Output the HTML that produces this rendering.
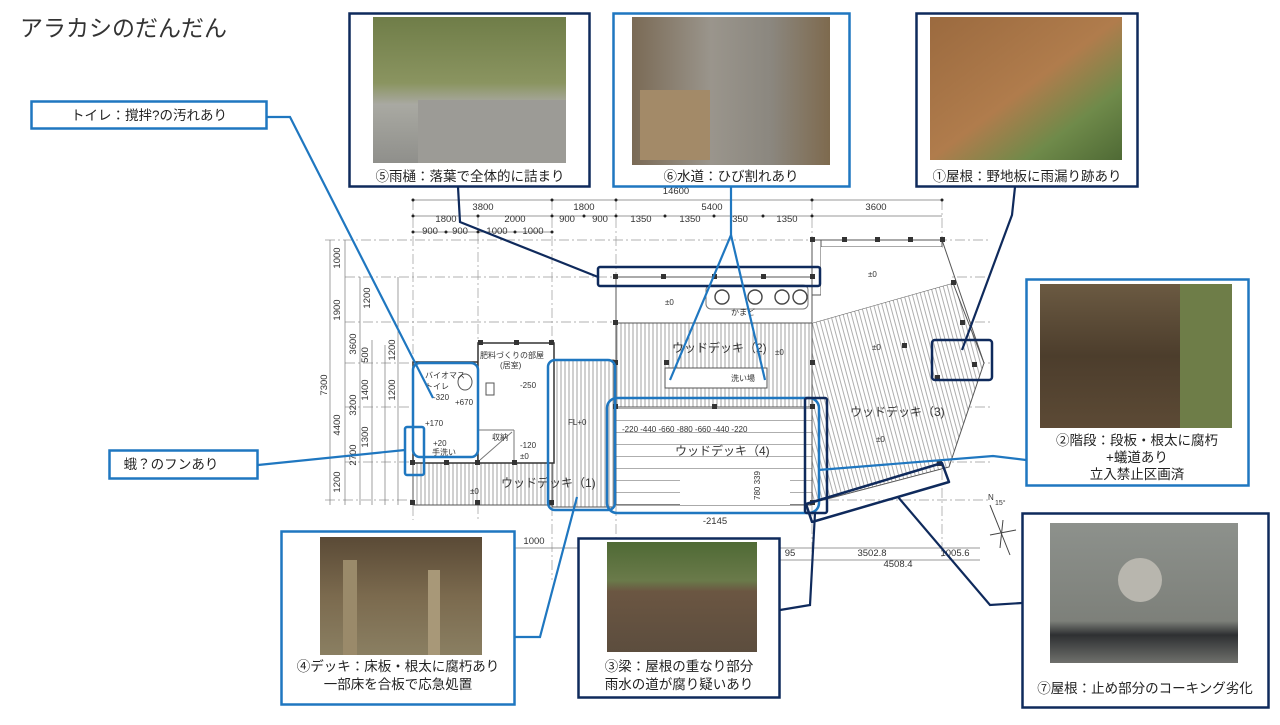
<!DOCTYPE html>
<html><head><meta charset="utf-8"><style>
html,body{margin:0;padding:0;background:#fff;}
body{width:1280px;height:720px;overflow:hidden;position:relative;font-family:"Liberation Sans","Noto Sans CJK JP",sans-serif;}
svg text{font-family:"Liberation Sans","Noto Sans CJK JP",sans-serif;}
</style></head><body>
<svg width="1280" height="720" viewBox="0 0 1280 720" xmlns="http://www.w3.org/2000/svg">
<defs>
<pattern id="vh" width="4" height="4" patternUnits="userSpaceOnUse"><rect width="4" height="4" fill="#fff"/><line x1="1" y1="0" x2="1" y2="4" stroke="#8a8a8a" stroke-width="0.8"/></pattern>
<pattern id="dh" width="4" height="4" patternUnits="userSpaceOnUse" patternTransform="rotate(-15)"><rect width="4" height="4" fill="#fff"/><line x1="1" y1="0" x2="1" y2="4" stroke="#9a9a9a" stroke-width="0.8"/></pattern>
<pattern id="hh" width="10" height="12" patternUnits="userSpaceOnUse"><rect width="10" height="12" fill="#fff"/><line x1="0" y1="0.5" x2="10" y2="0.5" stroke="#999" stroke-width="0.8"/></pattern>
<linearGradient id="p5" x1="0" y1="0" x2="0" y2="1"><stop offset="0" stop-color="#6f7d48"/><stop offset="0.45" stop-color="#8a9460"/><stop offset="0.6" stop-color="#a9a9a2"/><stop offset="1" stop-color="#8f8f8b"/></linearGradient>
<linearGradient id="p6" x1="0" y1="0" x2="1" y2="0"><stop offset="0" stop-color="#7a6a55"/><stop offset="0.4" stop-color="#9a958c"/><stop offset="0.7" stop-color="#8b877f"/><stop offset="1" stop-color="#7e6a4e"/></linearGradient>
<linearGradient id="p1" x1="0" y1="0" x2="1" y2="1"><stop offset="0" stop-color="#9b6a3f"/><stop offset="0.5" stop-color="#b07c4c"/><stop offset="0.75" stop-color="#6f8a4a"/><stop offset="1" stop-color="#4f6a35"/></linearGradient>
<linearGradient id="p2" x1="0" y1="0" x2="0" y2="1"><stop offset="0" stop-color="#6b5a42"/><stop offset="0.5" stop-color="#4c3d2c"/><stop offset="1" stop-color="#5c4a35"/></linearGradient>
<linearGradient id="p7" x1="0" y1="0" x2="0" y2="1"><stop offset="0" stop-color="#8d918c"/><stop offset="0.7" stop-color="#7d807a"/><stop offset="0.8" stop-color="#2e3032"/><stop offset="1" stop-color="#6f706c"/></linearGradient>
<linearGradient id="p4" x1="0" y1="0" x2="0" y2="1"><stop offset="0" stop-color="#5a4a36"/><stop offset="0.5" stop-color="#7b6a4e"/><stop offset="1" stop-color="#8a7f62"/></linearGradient>
<linearGradient id="p3" x1="0" y1="0" x2="0" y2="1"><stop offset="0" stop-color="#4f6a35"/><stop offset="0.35" stop-color="#6a7a4a"/><stop offset="0.45" stop-color="#6b5642"/><stop offset="1" stop-color="#5c4d3e"/></linearGradient>
</defs>

<text x="20" y="36" font-size="23" fill="#333">アラカシのだんだん</text>

<!-- ===== floor plan ===== -->
<g stroke="#777" stroke-width="0.7" fill="none">
  <line x1="413" y1="200" x2="942" y2="200"/>
  <line x1="413" y1="216" x2="942" y2="216"/>
  <line x1="413" y1="232" x2="552" y2="232"/>
  <g stroke-dasharray="10,3,2,3" stroke="#999">
    <line x1="325" y1="240" x2="990" y2="240"/>
    <line x1="345" y1="277" x2="990" y2="277"/>
    <line x1="345" y1="322" x2="990" y2="322"/>
    <line x1="345" y1="363" x2="990" y2="363"/>
    <line x1="345" y1="407" x2="990" y2="407"/>
    <line x1="345" y1="462" x2="990" y2="462"/>
    <line x1="325" y1="500" x2="990" y2="500"/>
    <line x1="413" y1="200" x2="413" y2="520"/>
    <line x1="478" y1="216" x2="478" y2="520"/>
    <line x1="552" y1="200" x2="552" y2="580"/>
    <line x1="616" y1="200" x2="616" y2="580"/>
    <line x1="812" y1="200" x2="812" y2="580"/>
    <line x1="942" y1="200" x2="942" y2="560"/>
  </g>
  <line x1="330" y1="240" x2="330" y2="505"/>
  <line x1="345" y1="240" x2="345" y2="505"/>
  <line x1="360" y1="277" x2="360" y2="505"/>
  <line x1="372" y1="340" x2="372" y2="505"/>
  <line x1="385" y1="345" x2="385" y2="505"/>
  <line x1="398" y1="277" x2="398" y2="505"/>
  <line x1="515" y1="548" x2="980" y2="548"/>
  <line x1="780" y1="560" x2="980" y2="560"/>
</g>
<g fill="#222">
  <circle cx="413" cy="200" r="1.5"/><circle cx="552" cy="200" r="1.5"/><circle cx="616" cy="200" r="1.5"/><circle cx="812" cy="200" r="1.5"/><circle cx="942" cy="200" r="1.5"/>
  <circle cx="413" cy="216" r="1.5"/><circle cx="478" cy="216" r="1.5"/><circle cx="552" cy="216" r="1.5"/><circle cx="584" cy="216" r="1.5"/><circle cx="616" cy="216" r="1.5"/><circle cx="665" cy="216" r="1.5"/><circle cx="714" cy="216" r="1.5"/><circle cx="763" cy="216" r="1.5"/><circle cx="812" cy="216" r="1.5"/>
  <circle cx="413" cy="232" r="1.5"/><circle cx="446" cy="232" r="1.5"/><circle cx="478" cy="232" r="1.5"/><circle cx="515" cy="232" r="1.5"/><circle cx="552" cy="232" r="1.5"/>
</g>

<rect x="812" y="240" width="130" height="7" fill="#fff" stroke="#555" stroke-width="1"/>
<rect x="812" y="240" width="9" height="55" fill="#fff" stroke="#555" stroke-width="1"/>
<rect x="616" y="277" width="196" height="46" fill="#fff" stroke="#555" stroke-width="1"/>
<rect x="706" y="285" width="102" height="24" rx="5" fill="#fff" stroke="#777"/>
<g fill="none" stroke="#444" stroke-width="1.4"><circle cx="722" cy="297" r="7"/><circle cx="755" cy="297" r="7"/><circle cx="782" cy="297" r="7"/><circle cx="800" cy="297" r="7"/></g>
<polygon points="812,323 953,283 984,363 949,467 812,503" fill="url(#dh)" stroke="#555" stroke-width="1"/>
<polygon points="821,247 942,247 953,283 812,323 821,295" fill="#fff" stroke="none"/>
<line x1="942" y1="240" x2="984" y2="363" stroke="#555"/>
<rect x="616" y="323" width="196" height="84" fill="url(#vh)" stroke="#555"/>
<rect x="665" y="368" width="102" height="20" fill="#fff" stroke="#555"/>
<rect x="616" y="407" width="196" height="98" fill="url(#hh)" stroke="#555"/>
<rect x="680" y="470" width="110" height="35" fill="#fff" stroke="none"/>
<rect x="552" y="360" width="62" height="147" fill="url(#vh)" stroke="#555"/>
<rect x="413" y="463" width="139" height="42" fill="url(#vh)" stroke="#555"/>
<rect x="413" y="362" width="65" height="101" fill="#fff" stroke="#333" stroke-width="1.5"/>
<rect x="478" y="343" width="76" height="120" fill="#fff" stroke="#333" stroke-width="1.5"/>
<line x1="478" y1="430" x2="514" y2="430" stroke="#777"/>
<line x1="514" y1="430" x2="514" y2="463" stroke="#777"/>
<line x1="480" y1="460" x2="512" y2="432" stroke="#777"/>
<ellipse cx="465" cy="382" rx="7" ry="8" fill="none" stroke="#555"/>
<rect x="486" y="383" width="8" height="12" fill="none" stroke="#555"/>
<g fill="#333">
  <rect x="613" y="274" width="5" height="5"/><rect x="661" y="274" width="5" height="5"/><rect x="712" y="274" width="5" height="5"/><rect x="761" y="274" width="5" height="5"/><rect x="810" y="274" width="5" height="5"/>
  <rect x="810" y="237" width="5" height="5"/><rect x="842" y="237" width="5" height="5"/><rect x="875" y="237" width="5" height="5"/><rect x="908" y="237" width="5" height="5"/><rect x="940" y="237" width="5" height="5"/>
  <rect x="613" y="320" width="5" height="5"/><rect x="613" y="360" width="5" height="5"/><rect x="664" y="360" width="5" height="5"/><rect x="810" y="360" width="5" height="5"/>
  <rect x="613" y="404" width="5" height="5"/><rect x="712" y="404" width="5" height="5"/><rect x="810" y="404" width="5" height="5"/>
  <rect x="810" y="500" width="5" height="5"/><rect x="475" y="500" width="5" height="5"/><rect x="410" y="500" width="5" height="5"/><rect x="549" y="500" width="5" height="5"/>
  <rect x="410" y="460" width="5" height="5"/><rect x="444" y="460" width="5" height="5"/><rect x="475" y="460" width="5" height="5"/><rect x="512" y="460" width="5" height="5"/>
  <rect x="951" y="280" width="5" height="5"/><rect x="960" y="320" width="5" height="5"/><rect x="972" y="362" width="5" height="5"/><rect x="935" y="375" width="5" height="5"/><rect x="902" y="343" width="5" height="5"/><rect x="937" y="461" width="5" height="5"/>
  <rect x="478" y="340" width="5" height="5"/><rect x="514" y="340" width="5" height="5"/><rect x="549" y="340" width="5" height="5"/>
</g>

<g font-size="9.5" fill="#333">
  <text x="676" y="194" text-anchor="middle">14600</text>
  <text x="483" y="210" text-anchor="middle">3800</text>
  <text x="584" y="210" text-anchor="middle">1800</text>
  <text x="712" y="210" text-anchor="middle">5400</text>
  <text x="876" y="210" text-anchor="middle">3600</text>
  <text x="446" y="222" text-anchor="middle">1800</text><text x="515" y="222" text-anchor="middle">2000</text><text x="567" y="222" text-anchor="middle">900</text><text x="600" y="222" text-anchor="middle">900</text><text x="641" y="222" text-anchor="middle">1350</text><text x="690" y="222" text-anchor="middle">1350</text><text x="740" y="222" text-anchor="middle">350</text><text x="787" y="222" text-anchor="middle">1350</text>
  <text x="430" y="234" text-anchor="middle">900</text><text x="460" y="234" text-anchor="middle">900</text><text x="497" y="234" text-anchor="middle">1000</text><text x="533" y="234" text-anchor="middle">1000</text>
  <text transform="translate(327,385) rotate(-90)" text-anchor="middle">7300</text>
  <text transform="translate(340,258) rotate(-90)" text-anchor="middle">1000</text>
  <text transform="translate(340,310) rotate(-90)" text-anchor="middle">1900</text>
  <text transform="translate(340,425) rotate(-90)" text-anchor="middle">4400</text>
  <text transform="translate(340,482) rotate(-90)" text-anchor="middle">1200</text>
  <text transform="translate(370,298) rotate(-90)" text-anchor="middle">1200</text>
  <text transform="translate(356,344) rotate(-90)" text-anchor="middle">3600</text>
  <text transform="translate(356,405) rotate(-90)" text-anchor="middle">3200</text>
  <text transform="translate(368,355) rotate(-90)" text-anchor="middle">500</text>
  <text transform="translate(368,390) rotate(-90)" text-anchor="middle">1400</text>
  <text transform="translate(368,437) rotate(-90)" text-anchor="middle">1300</text>
  <text transform="translate(356,455) rotate(-90)" text-anchor="middle">2700</text>
  <text transform="translate(395,350) rotate(-90)" text-anchor="middle">1200</text>
  <text transform="translate(395,390) rotate(-90)" text-anchor="middle">1200</text>
  <text x="534" y="544" text-anchor="middle">1000</text>
  <text x="790" y="556" text-anchor="middle">95</text>
  <text x="872" y="556" text-anchor="middle">3502.8</text>
  <text x="955" y="556" text-anchor="middle">1005.6</text>
  <text x="898" y="567" text-anchor="middle">4508.4</text>
  <text x="715" y="524" text-anchor="middle">-2145</text>
</g>
<g font-size="12" fill="#333">
  <text x="672" y="352">ウッドデッキ（2)</text>
  <text x="850" y="416">ウッドデッキ（3)</text>
  <text x="675" y="455">ウッドデッキ（4)</text>
  <text x="501" y="487">ウッドデッキ（1)</text>
</g>
<g font-size="8" fill="#333">
  <text x="425" y="378">バイオマス</text><text x="425" y="389">トイレ</text>
  <text x="480" y="358">肥料づくりの部屋</text><text x="500" y="368">(居室)</text>
  <text x="492" y="440">収納</text><text x="432" y="455">手洗い</text>
  <text x="731" y="381">洗い場</text><text x="731" y="315">かまど</text>
  <text x="433" y="400">-320</text><text x="455" y="405">+670</text><text x="425" y="426">+170</text><text x="433" y="446">+20</text>
  <text x="520" y="388">-250</text><text x="520" y="448">-120</text><text x="520" y="459">±0</text>
  <text x="665" y="305">±0</text><text x="775" y="355">±0</text><text x="868" y="277">±0</text><text x="872" y="350">±0</text><text x="876" y="442">±0</text><text x="470" y="494">±0</text><text x="568" y="425">FL+0</text>
  <text x="622" y="432">-220  -440  -660    -880    -660  -440  -220</text>
  <text transform="translate(760,500) rotate(-90)">780  339</text>
</g>
<g stroke="#444" fill="none"><line x1="990" y1="505" x2="1010" y2="555"/><line x1="990" y1="535" x2="1016" y2="530"/><line x1="1003" y1="520" x2="1000" y2="548"/></g>
<text x="988" y="500" font-size="8" fill="#333">N</text><text x="995" y="505" font-size="7" fill="#333">15°</text>

<g fill="none" stroke-width="2.5">
  <rect x="598" y="267" width="222" height="19" rx="2" stroke="#0f2a5c"/>
  <rect x="413" y="363" width="65" height="94" rx="7" stroke="#1f77c0"/>
  <rect x="548" y="360" width="67" height="150" rx="7" stroke="#1f77c0"/>
  <rect x="607" y="398" width="212" height="115" rx="10" stroke="#1f77c0"/>
  <rect x="405" y="427" width="19" height="48" rx="2" stroke="#1f77c0"/>
  <rect x="805" y="398" width="22" height="115" rx="2" stroke="#0f2a5c"/>
  <rect x="932" y="340" width="60" height="40" rx="3" stroke="#0f2a5c"/>
  <polygon points="806,504 942,463 949,482 812,522" stroke="#0f2a5c" stroke-linejoin="round"/>
</g>

<g fill="none" stroke-width="2.2">
  <polyline points="267,117 290,117 433,398" stroke="#1f77c0"/>
  <polyline points="258,465 405,450" stroke="#1f77c0"/>
  <polyline points="458,187 460,222 598,277" stroke="#0f2a5c"/>
  <polyline points="731,187 731,235 670,380" stroke="#1f77c0"/>
  <polyline points="731,235 765,380" stroke="#1f77c0"/>
  <polyline points="1015,187 1012,215 962,350" stroke="#0f2a5c"/>
  <polyline points="1026,460 993,456 818,470" stroke="#1f77c0"/>
  <polyline points="1022,603 990,605 898,497" stroke="#0f2a5c"/>
  <polyline points="515,637 540,637 577,497" stroke="#1f77c0"/>
  <polyline points="780,610 810,605 815,513" stroke="#0f2a5c"/>
</g>

<rect x="31.5" y="101.5" width="235" height="27" fill="#fff" stroke="#1f77c0" stroke-width="2.5"/>
<text x="149" y="120" font-size="13.5" fill="#222" text-anchor="middle">トイレ：撹拌?の汚れあり</text>
<rect x="109.5" y="450.5" width="148" height="28" fill="#fff" stroke="#1f77c0" stroke-width="2.5"/>
<text x="171" y="469" font-size="13.5" fill="#222" text-anchor="middle">蛾？のフンあり</text>

<rect x="349.5" y="13.5" width="240" height="173" fill="#fff" stroke="#0f2a5c" stroke-width="2.5"/>
<rect x="373" y="17" width="193" height="146" fill="url(#p5)"/>
<rect x="418" y="100" width="148" height="63" fill="#9c9b96"/>
<text x="470" y="181" font-size="13.5" fill="#222" text-anchor="middle">⑤雨樋：落葉で全体的に詰まり</text>
<rect x="613.5" y="13.5" width="236" height="173" fill="#fff" stroke="#1f77c0" stroke-width="2.5"/>
<rect x="632" y="17" width="198" height="148" fill="url(#p6)"/>
<rect x="640" y="90" width="70" height="70" fill="#a38a68"/>
<text x="731" y="181" font-size="13.5" fill="#222" text-anchor="middle">⑥水道：ひび割れあり</text>
<rect x="916.5" y="13.5" width="221" height="173" fill="#fff" stroke="#0f2a5c" stroke-width="2.5"/>
<rect x="930" y="17" width="192" height="143" fill="url(#p1)"/>
<text x="1027" y="181" font-size="13.5" fill="#222" text-anchor="middle">①屋根：野地板に雨漏り跡あり</text>
<rect x="1026.5" y="279.5" width="222" height="206" fill="#fff" stroke="#1f77c0" stroke-width="2.5"/>
<rect x="1040" y="284" width="192" height="144" fill="url(#p2)"/>
<rect x="1180" y="284" width="52" height="144" fill="#6e7d48"/>
<g font-size="13.5" fill="#222" text-anchor="middle">
<text x="1137" y="445">②階段：段板・根太に腐朽</text>
<text x="1137" y="462">+蟻道あり</text>
<text x="1137" y="479">立入禁止区画済</text>
</g>
<rect x="1022.5" y="513.5" width="246" height="194" fill="#fff" stroke="#0f2a5c" stroke-width="2.5"/>
<rect x="1050" y="523" width="188" height="140" fill="url(#p7)"/>
<circle cx="1140" cy="580" r="22" fill="#b8b6ae"/>
<text x="1145" y="693" font-size="13.5" fill="#222" text-anchor="middle">⑦屋根：止め部分のコーキング劣化</text>
<rect x="281.5" y="531.5" width="233" height="173" fill="#fff" stroke="#1f77c0" stroke-width="2.5"/>
<rect x="320" y="537" width="162" height="118" fill="url(#p4)"/>
<rect x="343" y="560" width="14" height="95" fill="#9a8a6a"/><rect x="428" y="570" width="12" height="85" fill="#a89878"/>
<g font-size="13.5" fill="#222" text-anchor="middle">
<text x="398" y="671">④デッキ：床板・根太に腐朽あり</text>
<text x="398" y="689">一部床を合板で応急処置</text>
</g>
<rect x="578.5" y="538.5" width="201" height="159" fill="#fff" stroke="#0f2a5c" stroke-width="2.5"/>
<rect x="607" y="542" width="150" height="110" fill="url(#p3)"/>
<g font-size="13.5" fill="#222" text-anchor="middle">
<text x="679" y="671">③梁：屋根の重なり部分</text>
<text x="679" y="689">雨水の道が腐り疑いあり</text>
</g>
</svg>
</body></html>
